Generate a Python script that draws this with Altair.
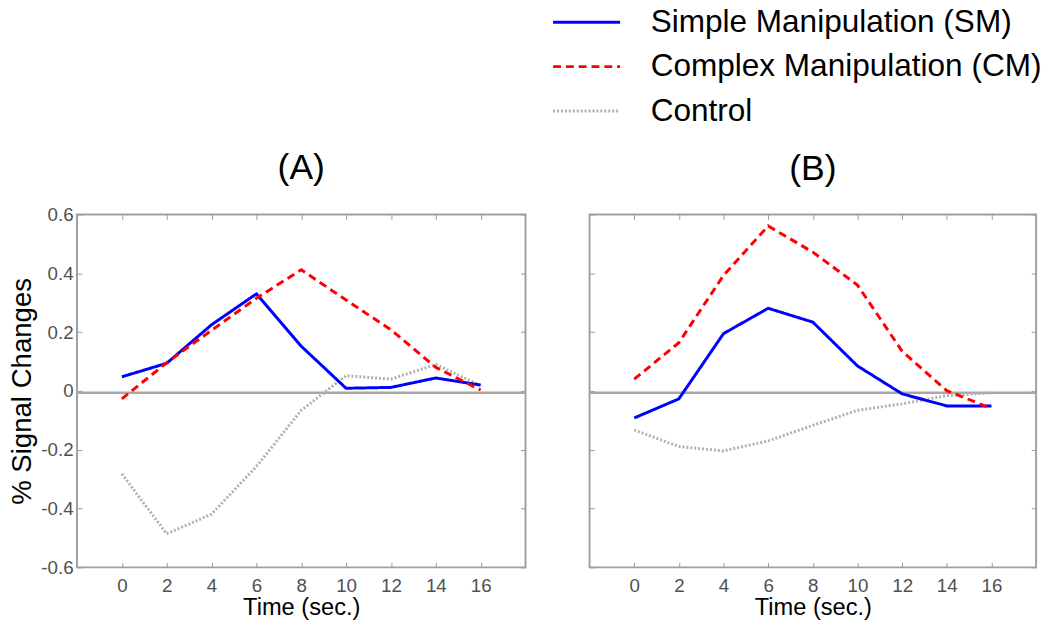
import altair as alt
import pandas as pd

TIME = [0, 2, 4, 6, 8, 10, 12, 14, 16]
SERIES = ["Simple Manipulation (SM)", "Complex Manipulation (CM)", "Control"]

A_SM = [0.048, 0.094, 0.225, 0.330, 0.152, 0.009, 0.012, 0.044, 0.020]
A_CM = [-0.027, 0.096, 0.206, 0.315, 0.412, 0.309, 0.208, 0.080, 0.003]
A_CTRL = [-0.282, -0.486, -0.419, -0.257, -0.066, 0.052, 0.040, 0.090, 0.018]

B_SM = [-0.092, -0.027, 0.195, 0.281, 0.234, 0.085, -0.010, -0.051, -0.051]
B_CM = [0.040, 0.164, 0.393, 0.561, 0.472, 0.360, 0.135, 0.001, -0.060]
B_CTRL = [-0.133, -0.189, -0.204, -0.170, -0.117, -0.066, -0.044, -0.016, -0.007]

COLORS = ["#0000ff", "#ff0000", "#b0b0b0"]
DASHES = [[1, 0], [8, 5], [2, 2]]
WIDTHS = [3, 3, 1.6]
Y_TICKS = [-0.6, -0.4, -0.2, 0, 0.2, 0.4, 0.6]
ZERO_LINE = [-0.006]

FONT = "Liberation Sans"
TICK_GRAY = "#999999"
LABEL_GRAY = "#505050"
PH = 358


def panel(title, sm, cm, ctrl, first, width, title_dy):
    rows = []
    for name, vals in [(SERIES[2], ctrl), (SERIES[0], sm), (SERIES[1], cm)]:
        for t, v in zip(TIME, vals):
            rows.append({"time": t, "value": v, "series": name})
    df = pd.DataFrame(rows)

    xscale = alt.Scale(domain=[-2, 18], nice=False, zero=False)
    yscale = alt.Scale(domain=[-0.6, 0.6], nice=False, zero=False)

    legend = alt.Legend(
        orient="none", legendX=501, legendY=-211, title=None,
        symbolType="M-2.5,0H2.5", symbolSize=740, symbolStrokeWidth=3,
        labelFontSize=32, labelFont=FONT, labelColor="black",
        labelOffset=49, rowPadding=13, padding=0, labelLimit=0,
    )

    x_bottom = alt.Axis(
        values=TIME, orient="bottom", offset=-5, tickSize=5, domain=False, grid=False,
        tickColor=TICK_GRAY, labelFontSize=19, labelFont=FONT, labelColor=LABEL_GRAY,
        labelPadding=9, title="Time (sec.)", titleFontSize=24, titleFont=FONT,
        titleFontWeight="normal", titleColor="black", titlePadding=1,
    )
    y_kw = dict(
        values=Y_TICKS, orient="left", offset=-5, tickSize=5, domain=False, grid=False,
        tickColor=TICK_GRAY, labelFontSize=19, labelFont=FONT, labelColor=LABEL_GRAY,
        labelPadding=4, labelExpr="toString(datum.value)",
        titleFontSize=28, titleFont=FONT, titleFontWeight="normal", titleColor="black",
        titlePadding=4,
    )
    if first:
        y_left = alt.Axis(title="% Signal Changes", **y_kw)
    else:
        y_left = alt.Axis(title=None, labels=False, **y_kw)
    x_top = alt.Axis(values=TIME, orient="top", offset=-5, tickSize=5, domain=False,
                     grid=False, labels=False, title=None, tickColor=TICK_GRAY)
    y_right = alt.Axis(values=Y_TICKS, orient="right", offset=-5, tickSize=5, domain=False,
                       grid=False, labels=False, title=None, tickColor=TICK_GRAY)

    zero = alt.Chart(pd.DataFrame({"y": ZERO_LINE})).mark_rule(
        color="#a8a8a8", strokeWidth=2.5
    ).encode(y=alt.Y("y:Q", scale=yscale, axis=None))

    lines = alt.Chart(df).mark_line().encode(
        x=alt.X("time:Q", scale=xscale, axis=x_bottom),
        y=alt.Y("value:Q", scale=yscale, axis=y_left),
        color=alt.Color("series:N", scale=alt.Scale(domain=SERIES, range=COLORS), legend=legend),
        strokeDash=alt.StrokeDash("series:N", scale=alt.Scale(domain=SERIES, range=DASHES), legend=legend),
        strokeWidth=alt.StrokeWidth("series:N", scale=alt.Scale(domain=SERIES, range=WIDTHS), legend=None),
        detail="series:N",
    )

    ticks = alt.Chart(df).mark_point(opacity=0).encode(
        x=alt.X("time:Q", scale=xscale, axis=x_top),
        y=alt.Y("value:Q", scale=yscale, axis=y_right),
    )

    return alt.layer(zero, lines, ticks).resolve_axis(x="independent", y="independent").properties(
        width=width, height=PH,
        title=alt.TitleParams(title, fontSize=36, font=FONT, fontWeight="normal",
                              anchor="middle", baseline="alphabetic", offset=31,
                              dy=title_dy, color="black"),
    )


chart = alt.hconcat(
    panel("(A)", A_SM, A_CM, A_CTRL, True, 455, 40),
    panel("(B)", B_SM, B_CM, B_CTRL, False, 453, 33),
    spacing=59,
).properties(
    padding={"left": 0, "top": -6, "right": 0, "bottom": 0},
    background="white",
).configure_view(stroke="#a0a0a0", strokeWidth=2)

chart.save("out.html", embed_options={"renderer": "svg", "actions": False})
